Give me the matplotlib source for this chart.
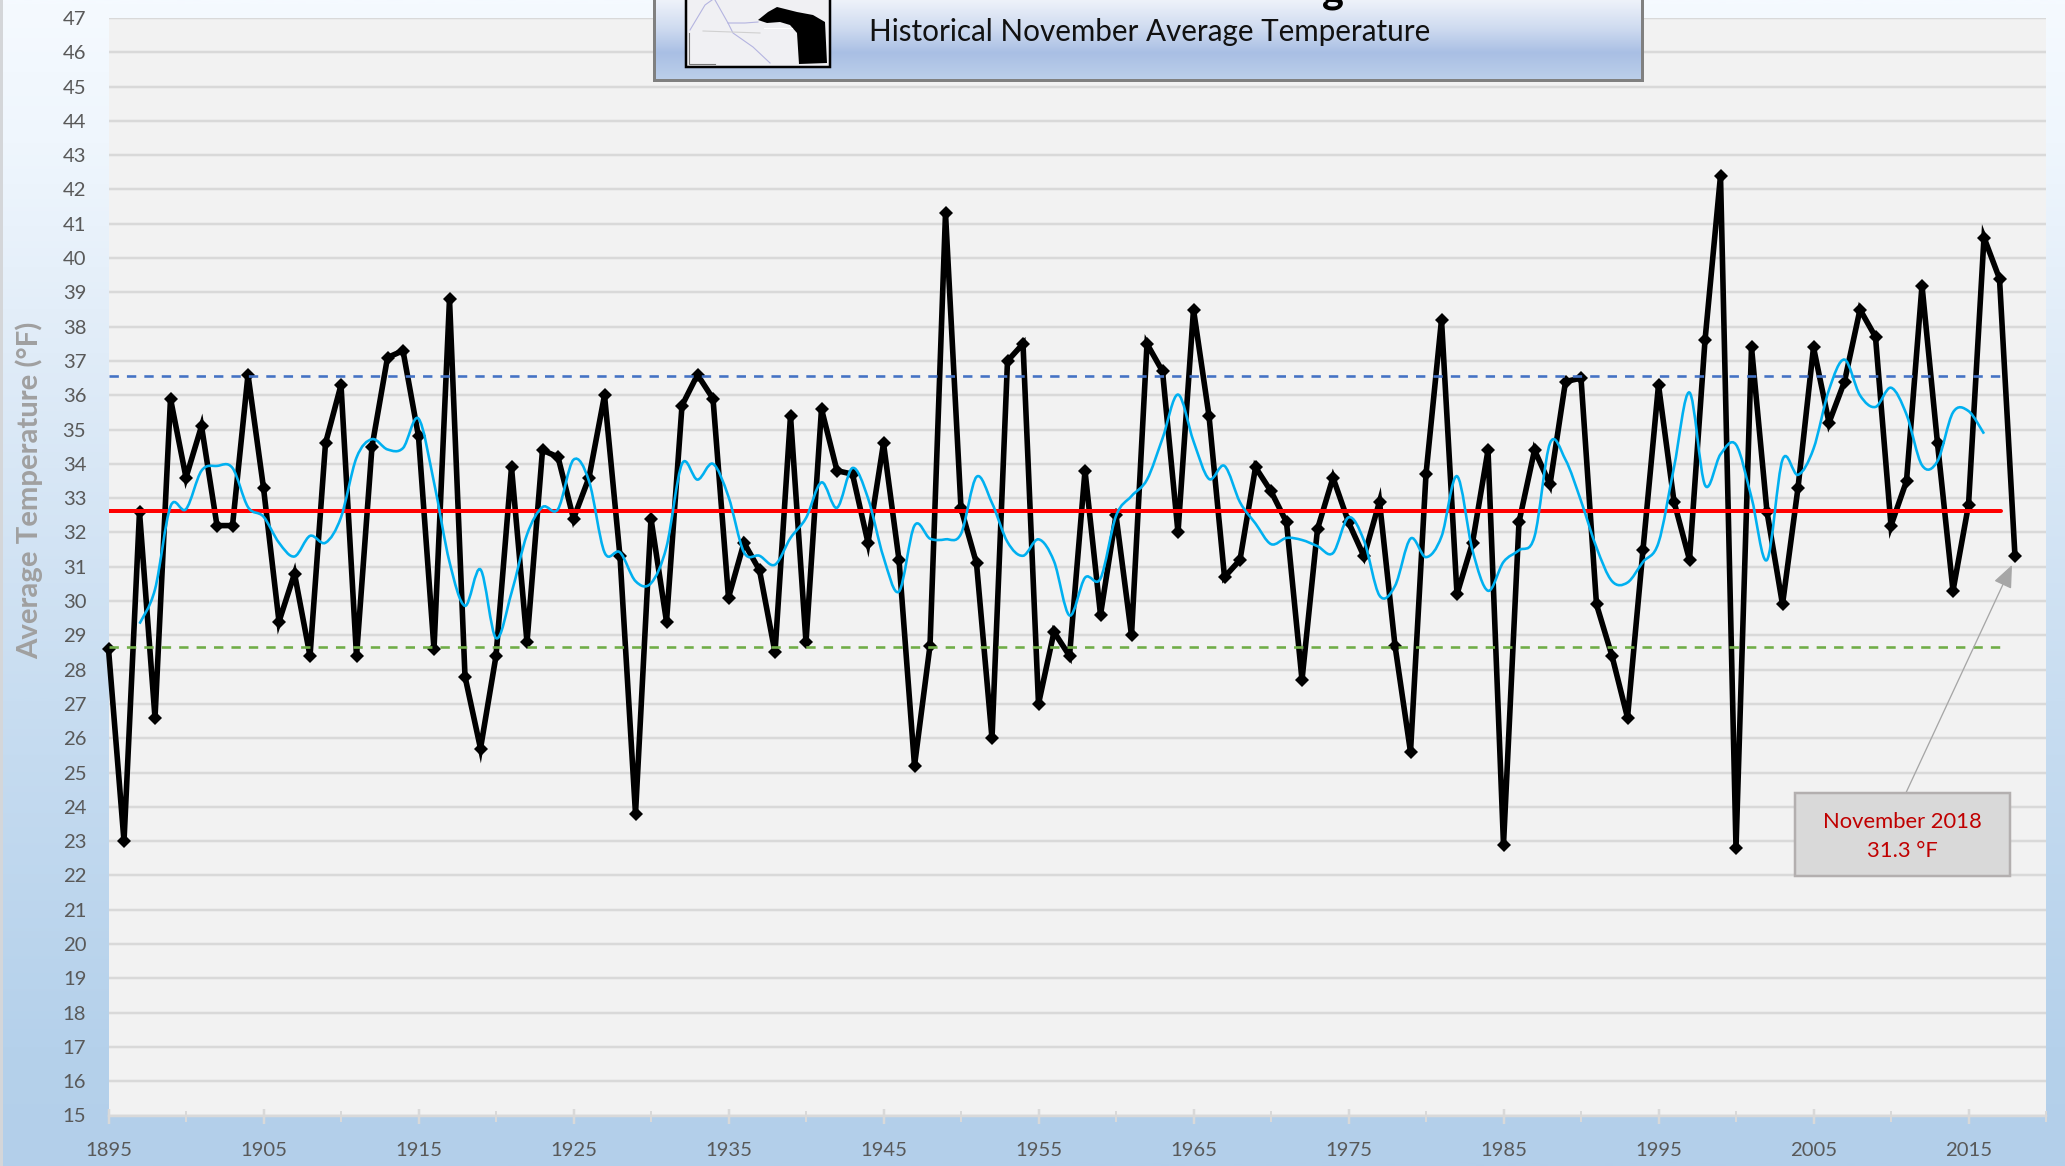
import numpy as np
import matplotlib
matplotlib.use("Agg")
import matplotlib.pyplot as plt
from matplotlib.path import Path
from matplotlib.patches import PathPatch, Rectangle, Polygon
from matplotlib.colors import LinearSegmentedColormap
from matplotlib.ticker import MultipleLocator

plt.rcParams['font.family'] = ['Lato', 'DejaVu Sans']

first_year = 1895
temps = [28.6,23.0,32.6,26.6,35.9,33.6,35.1,32.2,32.2,36.6,33.3,29.4,30.8,28.4,34.6,36.3,28.4,34.5,37.1,37.3,
         34.8,28.6,38.8,27.8,25.7,28.4,33.9,28.8,34.4,34.2,32.4,33.6,36.0,31.3,23.8,32.4,29.4,35.7,36.6,35.9,
         30.1,31.7,30.9,28.5,35.4,28.8,35.6,33.8,33.7,31.7,34.6,31.2,25.2,28.7,41.3,32.7,31.1,26.0,37.0,37.5,
         27.0,29.1,28.4,33.8,29.6,32.5,29.0,37.5,36.7,32.0,38.5,35.4,30.7,31.2,33.9,33.2,32.3,27.7,32.1,33.6,
         32.3,31.3,32.9,28.7,25.6,33.7,38.2,30.2,31.7,34.4,22.9,32.3,34.4,33.4,36.4,36.5,29.9,28.4,26.6,31.5,
         36.3,32.9,31.2,37.6,42.4,22.8,37.4,32.6,29.9,33.3,37.4,35.2,36.4,38.5,37.7,32.2,33.5,39.2,34.6,30.3,
         32.8,40.6,39.4,31.3]
years = [first_year + i for i in range(len(temps))]

ma_first_year = 1897
ma_values = [29.34,30.34,32.76,32.68,33.80,33.94,33.88,32.74,32.46,31.70,31.30,31.90,31.70,32.44,34.18,34.72,
             34.42,34.46,35.32,33.46,31.14,29.86,30.92,28.92,30.24,31.94,32.74,32.68,34.12,33.50,31.42,31.42,
             30.58,30.52,31.58,34.00,33.54,34.00,33.04,31.42,31.32,31.06,31.84,32.42,33.46,32.72,33.88,33.00,
             31.28,30.28,32.20,31.82,31.80,31.96,33.62,32.86,31.72,31.32,31.80,31.16,29.58,30.68,30.66,32.48,
             33.06,33.54,34.74,36.02,34.66,33.56,33.94,32.88,32.26,31.66,31.84,31.78,31.60,31.40,32.44,31.76,
             30.16,30.44,31.82,31.28,31.88,33.64,31.48,30.30,31.14,31.48,31.88,34.60,34.12,32.92,31.56,30.58,
             30.54,31.14,31.70,33.90,36.08,33.38,34.28,34.56,33.02,31.20,34.12,33.68,34.44,36.16,37.04,36.00,
             35.66,36.22,35.44,33.96,34.08,35.50,35.54,34.88]
ma_years = [ma_first_year + i for i in range(len(ma_values))]

mean_value = 32.62
upper_value = 36.57
lower_value = 28.67
ref_years = [1895, 2017.1]

x_major = [1895, 1905, 1915, 1925, 1935, 1945, 1955, 1965, 1975, 1985, 1995, 2005, 2015]
x_minor = [1900, 1910, 1920, 1930, 1940, 1950, 1960, 1970, 1980, 1990, 2000, 2010, 2020]

subtitle = "Historical November Average Temperature"
y_title = "Average Temperature (°F)"
callout = "November 2018\n31.3 °F"

W, H = 2065, 1166
DPI = 100
px = 72 / DPI
fig = plt.figure(figsize=(W / DPI, H / DPI), dpi=DPI)

# page background
bg = fig.add_axes([0, 0, 1, 1], zorder=0)
bg.axis('off')
cm = LinearSegmentedColormap.from_list('page', [(0, '#f5faff'), (0.12, '#eff6fd'), (0.3, '#e0ecf8'),
                                                (0.6, '#c8ddf1'), (0.9, '#b5d1eb'), (1, '#b3cfea')])
bg.imshow(np.linspace(0, 1, 400)[:, None], cmap=cm, aspect='auto', extent=[0, W, H, 0], vmin=0, vmax=1)
bg.add_patch(Rectangle((0, 0), 2.5, H, fc='#d4d6d9', ec='none'))
bg.set_xlim(0, W); bg.set_ylim(H, 0)

# plot
L, R, T, B = 108.5, 2046.0, 18.0, 1115.5
ax = fig.add_axes([L / W, 1 - B / H, (R - L) / W, (B - T) / H], zorder=1)
ax.set_facecolor('#f2f2f2')
ax.set_xlim(1895, 2020)
ax.set_ylim(15, 47)
ax.set_xticks(x_major)
ax.set_xticks(x_minor, minor=True)
ax.yaxis.set_major_locator(MultipleLocator(1))
for s in ('left', 'right', 'top'):
    ax.spines[s].set_visible(False)
ax.spines['bottom'].set_color('#d9d9d9')
ax.spines['bottom'].set_linewidth(2.5 * px)
ax.grid(axis='y', color='#d9d9d9', lw=2.5 * px, zorder=1)
ax.set_axisbelow(True)
ax.tick_params(axis='y', length=0, labelsize=14.6, labelcolor='#595959', pad=16)
ax.tick_params(axis='x', which='major', direction='inout', length=15 * px, width=2.5 * px, color='#d9d9d9',
               labelsize=14.6, labelcolor='#595959', pad=13.5)
ax.tick_params(axis='x', which='minor', direction='inout', length=11 * px, width=2 * px, color='#d9d9d9')

ax.plot(years, temps, color='black', lw=5.6 * px, marker='D', ms=10 * px, mew=0, solid_joinstyle='miter',
        zorder=3, clip_on=False)
ax.plot(ref_years, [mean_value] * 2, color='#ff0000', lw=4 * px, zorder=4, solid_capstyle='round')
ax.plot(ref_years, [upper_value] * 2, color='#4472c4', lw=2.6 * px, dashes=(3.6, 3.1), zorder=5)
ax.plot(ref_years, [lower_value] * 2, color='#70ad47', lw=2.6 * px, dashes=(3.6, 3.1), zorder=5)

# smoothed five-year line, as a spreadsheet's smoothed line draws it
pts = np.column_stack([ma_years, ma_values]).astype(float)
verts, codes = [pts[0]], [Path.MOVETO]
for i in range(len(pts) - 1):
    p0 = pts[max(i - 1, 0)]; p1 = pts[i]; p2 = pts[i + 1]; p3 = pts[min(i + 2, len(pts) - 1)]
    verts += [p1 + (p2 - p0) / 6, p2 - (p3 - p1) / 6, p2]
    codes += [Path.CURVE4] * 3
ax.add_patch(PathPatch(Path(verts, codes), fc='none', ec='#00b0f0', lw=2.6 * px, zorder=5))

fig.text(29 / W, 1 - 490 / H, y_title, rotation=90, ha='center', va='center', fontsize=21.2,
         fontweight='bold', color='#a0a0a0')

# overlay: title box, map thumbnail, callout
ov = fig.add_axes([0, 0, 1, 1], zorder=2)
ov.axis('off'); ov.patch.set_alpha(0)

cb = LinearSegmentedColormap.from_list('box', [(0, '#eef2fa'), (0.35, '#cfdbf0'), (0.66, '#a9bfe4'), (1, '#bccfea')])
ov.add_patch(Rectangle((654, -5), 988, 85, fc='none', ec='#808080', lw=3 * px, zorder=2))
ov.imshow(np.linspace(0, 1, 100)[:, None], cmap=cb, aspect='auto', extent=[654, 1642, 80, 0], vmin=0, vmax=1, zorder=1)
ov.set_xlim(0, W); ov.set_ylim(H, 0)

ov.add_patch(Rectangle((686, -5), 144, 72, fc='#f0f0f3', ec='black', lw=2.5 * px, zorder=3))
ov.add_patch(Polygon([(758, 20), (768, 12), (777, 7), (797, 12), (813, 15), (825, 22), (827, 63), (799, 64),
                      (797, 33), (790, 25), (780, 22), (767, 23)], fc='black', ec='none', zorder=4))
for xs, ys, c in [([690, 705, 712], [30, 5, 0], '#b4b4e0'),
                  ([715, 728, 733, 753, 770], [0, 23, 33, 47, 63], '#b4b4e0'),
                  ([728, 745, 758], [23, 23, 22], '#b4b4e0'),
                  ([703, 760], [31, 33], '#d0d0d0'),
                  ([689, 689, 715], [33, 64, 64], '#777777'),
                  ([764, 792], [28, 28], '#ffffff')]:
    ov.plot(xs, ys, color=c, lw=1.1 * px, zorder=4)

ov.text(869, 32, subtitle, ha='left', va='center', fontsize=21.3, color='#111111', zorder=5)
ov.text(1333, -9, 'g', ha='center', va='center', fontsize=30, fontweight='bold', color='black', zorder=5)

ov.add_patch(Rectangle((1795, 793), 215, 83, fc='#d9d9d9', ec='#b3afaf', lw=2.5 * px, zorder=6))
ov.text(1902, 836.5, callout, ha='center', va='center', fontsize=15.8, color='#c00000', linespacing=1.6, zorder=7)
ov.annotate('', xy=(2012, 565), xytext=(1904, 797), zorder=5,
            arrowprops=dict(arrowstyle='-|>,head_length=1.0,head_width=0.42', color='#a6a6a6', lw=1.3 * px,
                            shrinkA=0, shrinkB=0, mutation_scale=14))

fig.savefig('out.png', dpi=DPI)
